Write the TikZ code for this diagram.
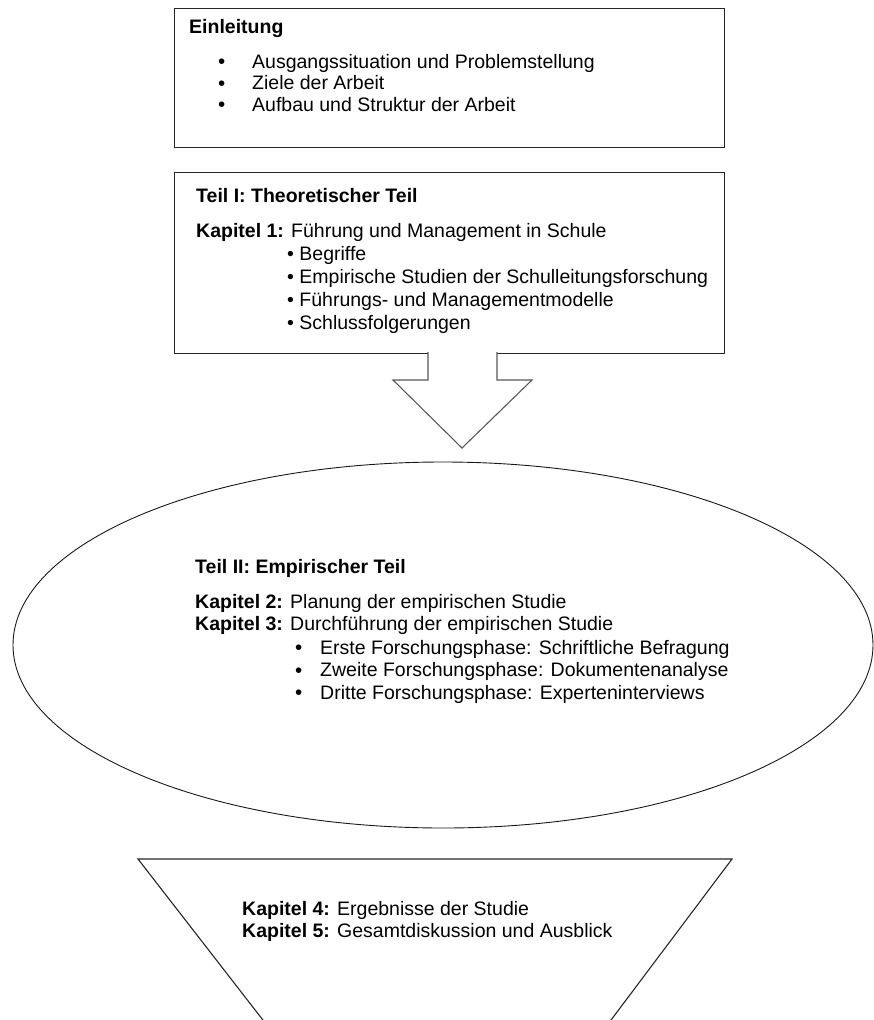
\documentclass[tikz,border=0pt]{standalone}
\usepackage{fontspec}
\setmainfont{Liberation Sans}
\usetikzlibrary{shapes.geometric}
\tikzset{
  txt/.style={anchor=base west, inner sep=0pt, font=\fontsize{19.5}{22.5}\selectfont},
  dot/.style={anchor=base west, inner sep=0pt, font=\fontsize{20.5}{21}\selectfont},
  frame/.style={draw=black!85, line width=1.1pt, fill=white, rectangle, inner sep=0pt, anchor=north west},
  outline/.style={draw=black!65, line width=1.1pt},
  oval/.style={draw=black!90, line width=0.9pt, ellipse, inner sep=0pt},
  funnel/.style={draw=black!85, line width=1.1pt}
}
\begin{document}
\begin{tikzpicture}[x=1pt,y=-1pt]
\useasboundingbox (0,0) rectangle (874,1020);
% Einleitung box
\node[frame, minimum width=550pt, minimum height=139pt] (einl) at (174,8) {};
\node[txt] (einlT) at (189,33) {\bfseries Einleitung};
\node[dot] (b1) at (218,68.5) {•};
\node[txt] (t1) at (252,68) {Ausgangssituation und Problemstellung};
\node[dot] (b2) at (218,90) {•};
\node[txt] (t2) at (252,89.5) {Ziele der Arbeit};
\node[dot] (b3) at (218,111.5) {•};
\node[txt] (t3) at (252,111) {Aufbau und Struktur der Arbeit};
% Teil I box
\node[frame, minimum width=550pt, minimum height=181pt] (teil1) at (174,172) {};
\node[txt] (teil1T) at (196,202) {\bfseries Teil I: Theoretischer Teil};
\node[txt] (k1) at (196,237) {{\bfseries Kapitel 1:} Führung und Management in Schule};
\node[txt] (s1) at (287,260) {• Begriffe};
\node[txt] (s2) at (287,283) {• Empirische Studien der Schulleitungsforschung};
\node[txt] (s3) at (287,306) {• Führungs- und Managementmodelle};
\node[txt] (s4) at (287,329) {• Schlussfolgerungen};
% block arrow
\coordinate (aL) at (428,352);
\coordinate (aR) at (497,352);
\coordinate (aTip) at (462,448);
\fill[white] (aL) -- (428,380) -- (393,380) -- (aTip) -- (532,380) -- (497,380) -- (aR) -- cycle;
\draw[outline, line join=miter] (aL) -- (428,380) -- (393,380) -- (aTip) -- (532,380) -- (497,380) -- (aR);
% ellipse
\node[oval, minimum width=860pt, minimum height=366pt] (emp) at (443,645) {};
\node[txt] (teil2T) at (195,573) {\bfseries Teil II: Empirischer Teil};
\node[txt] (k2) at (195,608) {{\bfseries Kapitel 2:} Planung der empirischen Studie};
\node[txt] (k3) at (195,630.5) {{\bfseries Kapitel 3:} Durchführung der empirischen Studie};
\node[dot] (e1) at (295,654.5) {•};
\node[txt] (f1) at (320,654) {Erste Forschungsphase: Schriftliche Befragung};
\node[dot] (e2) at (295,677) {•};
\node[txt] (f2) at (320,676.5) {Zweite Forschungsphase: Dokumentenanalyse};
\node[dot] (e3) at (295,699.5) {•};
\node[txt] (f3) at (320,699) {Dritte Forschungsphase: Experteninterviews};
% funnel
\coordinate (fTL) at (138,859);
\coordinate (fTR) at (732,859);
\coordinate (fBL) at (266,1024);
\coordinate (fBR) at (608,1024);
\draw[funnel, line join=miter] (fBL) -- (fTL) -- (fTR) -- (fBR);
\node[txt] (k4) at (242,915) {{\bfseries Kapitel 4:} Ergebnisse der Studie};
\node[txt] (k5) at (242,937.5) {{\bfseries Kapitel 5:} Gesamtdiskussion und Ausblick};
\end{tikzpicture}
\end{document}
